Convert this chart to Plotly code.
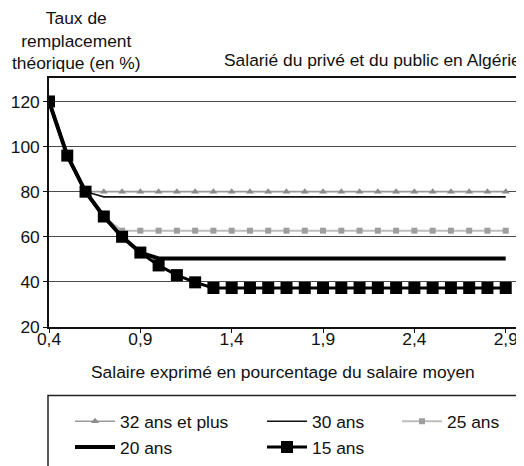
import plotly.graph_objects as go

# ---- data ----
salaire = [0.4, 0.5, 0.6, 0.7, 0.8, 0.9, 1.0, 1.1, 1.2, 1.3, 1.4, 1.5, 1.6, 1.7,
           1.8, 1.9, 2.0, 2.1, 2.2, 2.3, 2.4, 2.5, 2.6, 2.7, 2.8, 2.9]
ans32 = [120, 96, 80] + [80] * 23
ans30 = [120, 96, 80] + [77.7] * 23
ans25 = [120, 96, 80, 69] + [62.7] * 22
ans20 = [120, 96, 80, 69, 60, 53] + [50.4] * 20
ans15 = [120, 96, 80, 69, 60, 53, 47.3, 43, 39.8] + [37.3] * 17
x_ticks = [0.4, 0.9, 1.4, 1.9, 2.4, 2.9]
y_ticks = [20, 40, 60, 80, 100, 120]

FONT = "Liberation Sans, Arial, sans-serif"
FS = 17.4
TXT = "#111111"

# page body has an 8px margin: figure is drawn 8px right/down of the window corner
OFF = 8
W, H = 524 - OFF, 466 - OFF

# plot area in window pixels
PX0, PX1 = 49.0, 524.0
PY0, PY1 = 332.0, 78.0
PW, PH = PX1 - PX0, PY0 - PY1


def px(xp):
    return (xp - PX0) / PW


def py(yp):
    return (PY0 - yp) / PH


fig = go.Figure()
fig.add_trace(go.Scatter(x=salaire, y=ans32, name="32 ans et plus", mode="lines+markers",
                         line=dict(color="#9a9a9a", width=1.6),
                         marker=dict(symbol="triangle-up", size=7, color="#8a8a8a"),
                         legend="legend", legendgroup="a"))
fig.add_trace(go.Scatter(x=salaire, y=ans30, name="30 ans", mode="lines",
                         line=dict(color="#111111", width=1.6),
                         legend="legend2", legendgroup="b"))
fig.add_trace(go.Scatter(x=salaire, y=ans25, name="25 ans", mode="lines+markers",
                         line=dict(color="#bdbdbd", width=2),
                         marker=dict(symbol="square", size=6, color="#9e9e9e"),
                         legend="legend3", legendgroup="c"))
fig.add_trace(go.Scatter(x=salaire, y=ans20, name="20 ans", mode="lines",
                         line=dict(color="#000000", width=4),
                         legend="legend", legendgroup="d"))
fig.add_trace(go.Scatter(x=salaire, y=ans15, name="15 ans", mode="lines+markers",
                         line=dict(color="#000000", width=3),
                         marker=dict(symbol="square", size=12, color="#000000"),
                         legend="legend2", legendgroup="e"))

LEG_Y = py(410)


def leg(xpix):
    return dict(orientation="v", x=px(xpix), y=LEG_Y, xanchor="left", yanchor="top",
                bgcolor="rgba(0,0,0,0)", borderwidth=0, itemwidth=40,
                tracegroupgap=0, font=dict(family=FONT, size=FS, color=TXT))


fig.update_layout(
    width=W, height=H,
    margin=dict(l=PX0 - OFF, r=0, t=PY1 - OFF, b=H - (PY0 - OFF), pad=0),
    paper_bgcolor="white", plot_bgcolor="white",
    separators=", ",
    font=dict(family=FONT, size=FS, color=TXT),
    showlegend=True,
    xaxis=dict(range=[0.4, 3.0], tickvals=x_ticks, tickformat=".1f",
               showgrid=False, zeroline=False,
               showline=True, linecolor=TXT, linewidth=1.5, mirror=True,
               ticks="outside", ticklen=4, tickcolor=TXT, tickwidth=1,
               ticklabelstandoff=-9,
               tickfont=dict(family=FONT, size=FS, color=TXT)),
    yaxis=dict(range=[20, 130.4], tickvals=y_ticks,
               showgrid=True, gridcolor="#4a4a4a", gridwidth=1, zeroline=False,
               showline=True, linecolor=TXT, linewidth=1.5,
               ticks="outside", ticklen=4, tickcolor=TXT, tickwidth=1,
               tickfont=dict(family=FONT, size=FS, color=TXT)),
    legend=leg(70),
    legend2=leg(262),
    legend3=leg(397),
    shapes=[dict(type="rect", xref="paper", yref="paper",
                 x0=px(48), x1=px(540), y0=py(402), y1=py(480),
                 line=dict(color="#222222", width=1.5), fillcolor="rgba(0,0,0,0)",
                 layer="above")],
    annotations=[
        dict(text="Taux de<br>remplacement<br>théorique (en %)", xref="paper", yref="paper",
             x=px(76), y=py(40), xanchor="center", yanchor="middle", showarrow=False,
             align="center", font=dict(family=FONT, size=FS, color=TXT)),
        dict(text="Salarié du privé et du public en Algérie", xref="paper", yref="paper",
             x=px(523), y=py(60), xanchor="right", yanchor="middle", showarrow=False,
             font=dict(family=FONT, size=FS, color=TXT)),
        dict(text="Salaire exprimé en pourcentage du salaire moyen", xref="paper", yref="paper",
             x=px(283), y=py(378), xanchor="center", yanchor="middle", showarrow=False,
             font=dict(family=FONT, size=FS, color=TXT)),
    ],
)

fig.write_html("out.html")
